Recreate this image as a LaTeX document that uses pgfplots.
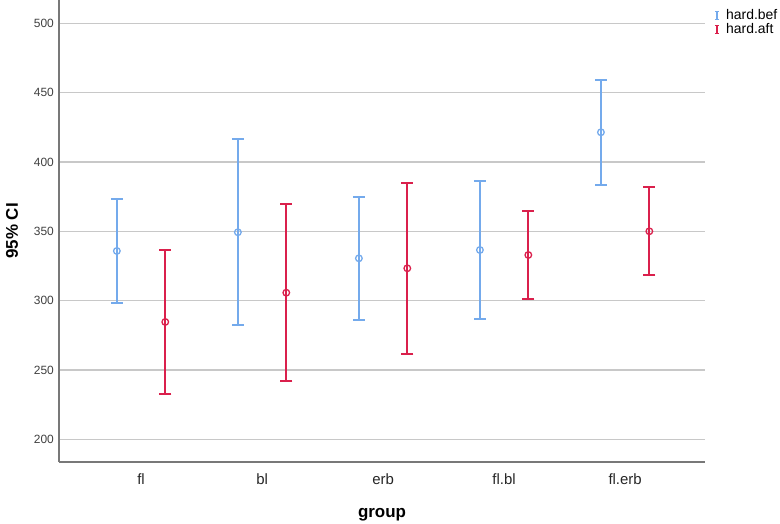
\documentclass[border=0pt]{standalone}
\usepackage{pgfplots}
\pgfplotsset{compat=1.18}
\usepackage{pgfplotstable}
\usepackage{fontspec}
\setmainfont{Liberation Sans}
\definecolor{cbef}{RGB}{116,170,236}
\definecolor{caft}{RGB}{218,32,76}
\definecolor{gridc}{RGB}{200,200,200}
\definecolor{axc}{RGB}{120,120,120}
\pgfplotstableread{
x y ep em
-0.2 335.8 37.5 37.5
0.8 349.3 67.3 67.1
1.8 330.5 44.4 44.5
2.8 336.5 49.5 49.5
3.8 421.4 37.5 37.8
}\bef
\pgfplotstableread{
x y ep em
0.2 284.6 51.9 51.9
1.2 305.7 64.0 63.9
2.2 323.3 61.7 61.7
3.2 332.9 31.7 31.5
4.2 350.0 31.9 31.7
}\aft
\begin{document}
\begin{tikzpicture}
\useasboundingbox (-59bp,-62bp) rectangle (721bp,462bp);
\begin{axis}[
  scale only axis, width=646bp, height=462bp,
  at={(0,0)}, anchor=south west,
  xmin=-0.678, xmax=4.66, ymin=183.6, ymax=516.8,
  axis x line*=bottom, axis y line*=left,
  axis line style={draw=axc, line width=1.3bp},
  xtick={0,1,2,3,4}, xticklabels={fl,bl,erb,fl.bl,fl.erb},
  ytick={200,250,300,350,400,450,500},
  ymajorgrids, grid style={draw=gridc, line width=1.2bp},
  major tick length=0pt,
  /pgf/number format/assume math mode=true,
  yticklabel style={font=\fontsize{12}{12}\selectfont, inner sep=0pt, anchor=east, xshift=-5bp, text=black!75},
  xticklabel style={font=\fontsize{15}{15}\selectfont, inner sep=0pt, anchor=north, yshift=-11bp, text=black!85},
  xlabel={group},
  xlabel style={font=\fontsize{17}{17}\selectfont\bfseries, at={(axis description cs:0.5,0)}, anchor=center, yshift=-53bp},
  ylabel={95\% CI},
  ylabel style={font=\fontsize{17}{17}\selectfont\bfseries, at={(axis description cs:0,0.5)}, anchor=center, yshift=47bp},
  legend style={at={(rel axis cs:1,0.986)}, anchor=north west, xshift=6bp, draw=none, fill=none,
    font=\fontsize{14}{14}\selectfont, row sep=0pt, column sep=5bp,
    nodes={inner sep=1bp, text height=9.5bp, text depth=2.5bp}},
  legend cell align=left,
]
\addplot[cbef, line width=1.8bp, mark=o, mark size=3.3bp, only marks,
  mark options={line width=1.3bp},
  error bars/.cd, y dir=both, y explicit,
  error bar style={line width=1.8bp, cbef},
  error mark options={rotate=90, mark size=6bp, line width=1.8bp, cbef},
  ] table[x=x, y=y, y error plus=ep, y error minus=em] {\bef};
\addplot[caft, line width=1.8bp, mark=o, mark size=3.3bp, only marks,
  mark options={line width=1.3bp},
  error bars/.cd, y dir=both, y explicit,
  error bar style={line width=1.8bp, caft},
  error mark options={rotate=90, mark size=6bp, line width=1.8bp, caft},
  ] table[x=x, y=y, y error plus=ep, y error minus=em] {\aft};
\addlegendimage{legend image code/.code={\draw[cbef, line width=1.5bp] (0bp,-4bp)--(0bp,4bp) (-2.2bp,-4bp)--(2.2bp,-4bp) (-2.2bp,4bp)--(2.2bp,4bp);}}
\addlegendimage{legend image code/.code={\draw[caft, line width=1.5bp] (0bp,-4bp)--(0bp,4bp) (-2.2bp,-4bp)--(2.2bp,-4bp) (-2.2bp,4bp)--(2.2bp,4bp);}}
\legend{,,hard.bef,hard.aft}
\end{axis}
\end{tikzpicture}
\end{document}
